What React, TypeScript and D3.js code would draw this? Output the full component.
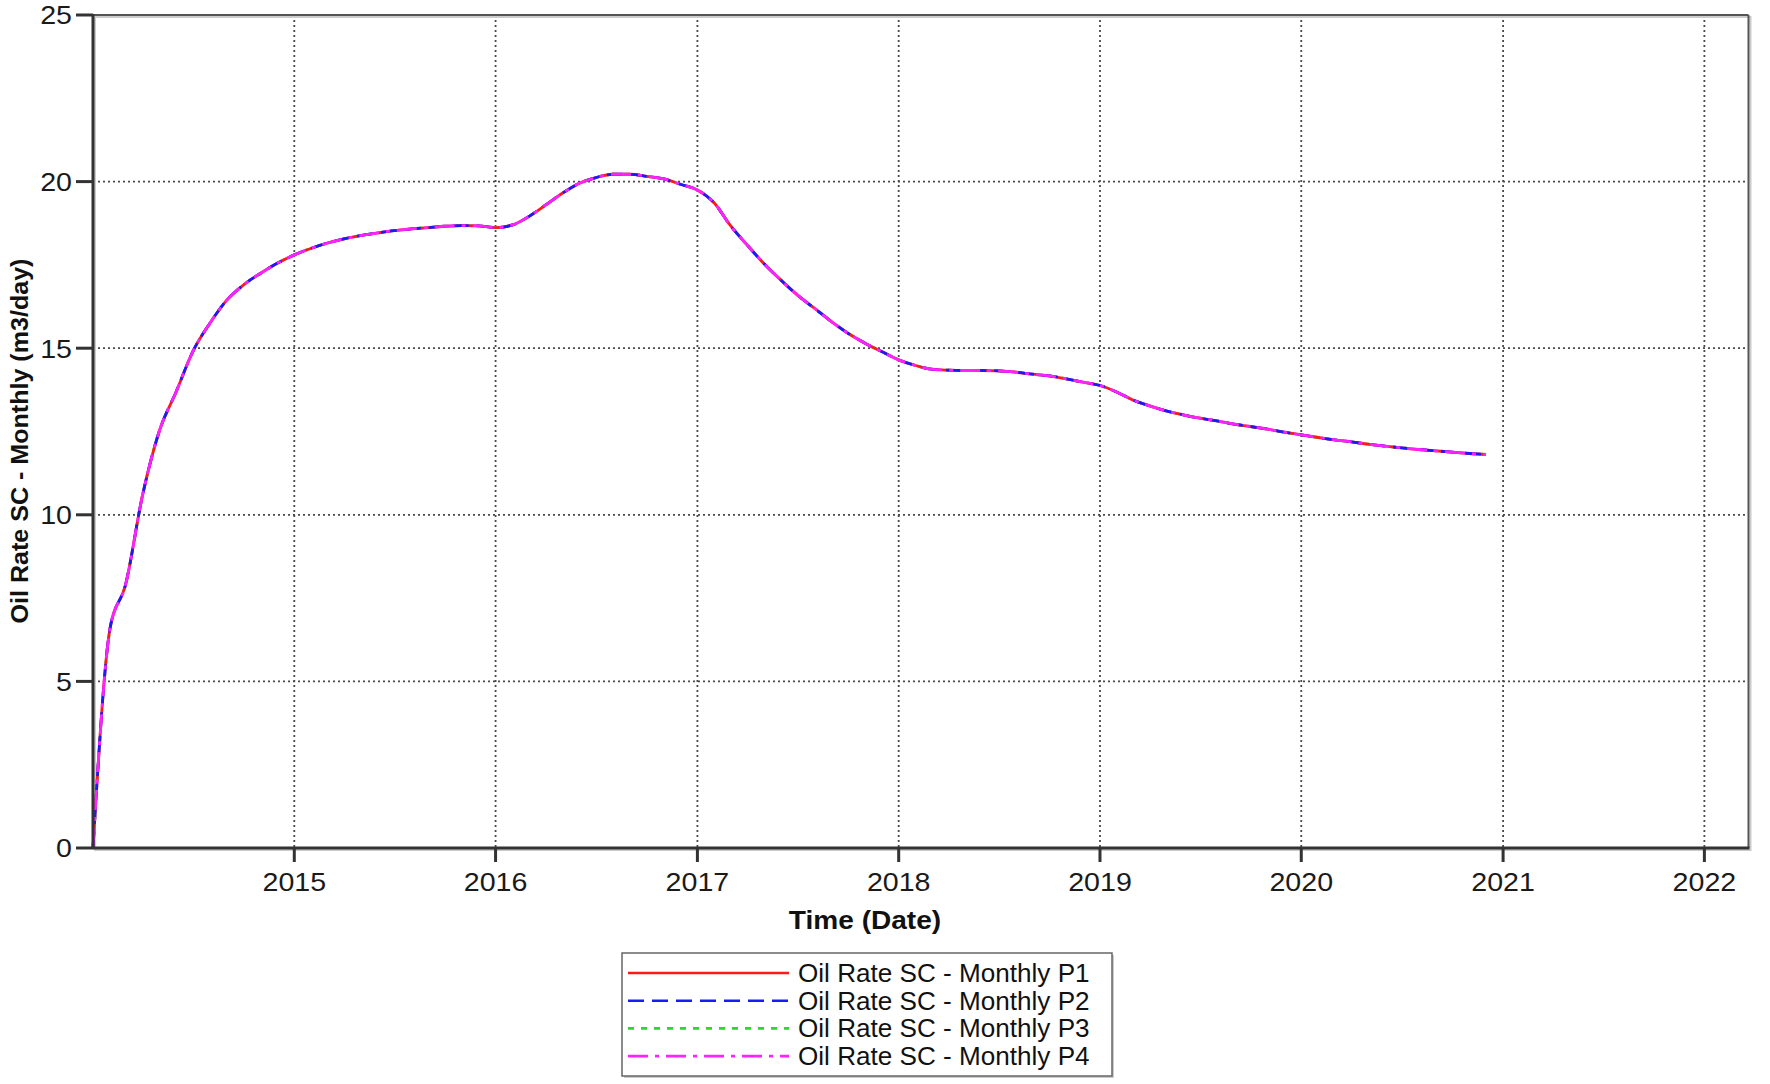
import React from "react";
import * as d3 from "d3";

// ---- data ----
const startMonth = "2014-01-01";
const oilRateMonthly = [
  // 2014
  0, 6.6, 7.9, 10.6, 12.5, 13.7, 14.9, 15.75, 16.45, 16.9, 17.25, 17.55,
  // 2015
  17.8, 18.0, 18.15, 18.28, 18.38, 18.46, 18.53, 18.58, 18.62, 18.66, 18.68, 18.67,
  // 2016
  18.62, 18.7, 18.95, 19.3, 19.65, 19.95, 20.12, 20.22, 20.22, 20.16, 20.08, 19.92,
  // 2017
  19.75, 19.35, 18.7, 18.1, 17.55, 17.05, 16.6, 16.2, 15.8, 15.45, 15.15, 14.9,
  // 2018
  14.65, 14.48, 14.37, 14.34, 14.33, 14.33, 14.32, 14.28, 14.22, 14.17, 14.08, 13.98,
  // 2019
  13.88, 13.68, 13.45, 13.27, 13.12, 13.0, 12.9, 12.82, 12.72, 12.65, 12.57, 12.48,
  // 2020
  12.4, 12.32, 12.25, 12.19, 12.12, 12.06, 12.01, 11.96, 11.92, 11.88, 11.84, 11.81,
];
const seriesNames = [
  "Oil Rate SC - Monthly P1",
  "Oil Rate SC - Monthly P2",
  "Oil Rate SC - Monthly P3",
  "Oil Rate SC - Monthly P4",
];
const seriesColors = ["#ff1a1a", "#1a1aff", "#22dd22", "#ff22ff"];
const seriesDashes = ["none", "16,8", "6,7", "20,7,4,7"];
const drawOrder = [2, 0, 1, 3];
const yTicks = [0, 5, 10, 15, 20, 25];
const yGrid = [5, 10, 15, 20];
const xTickYears = [2015, 2016, 2017, 2018, 2019, 2020, 2021, 2022];
const xDomain = ["2014-01-01", "2022-03-22"];
const yTitle = "Oil Rate SC - Monthly (m3/day)";
const xTitle = "Time (Date)";

const W = 1770;
const H = 1084;
const left = 93;
const right = 1748.5;
const top = 15;
const bottom = 848;
const FONT = "'Liberation Sans', Arial, sans-serif";

function SText(props: {
  x: number;
  y: number;
  sx: number;
  size: number;
  anchor?: string;
  weight?: string;
  rotate?: number;
  dy?: string;
  fill?: string;
  children: React.ReactNode;
}) {
  const { x, y, sx, size, anchor, weight, rotate, dy, fill, children } = props;
  return (
    <text
      transform={`translate(${x},${y}) rotate(${rotate || 0}) scale(${sx},1)`}
      textAnchor={anchor || "start"}
      fontSize={size}
      fontWeight={weight || "normal"}
      dy={dy}
      fill={fill || "#1a1a1a"}
    >
      {children}
    </text>
  );
}

export default function App() {
  const x = d3
    .scaleTime()
    .domain(xDomain.map((s) => new Date(s + "T00:00:00")))
    .range([left, right]);
  const y = d3.scaleLinear().domain([0, 25]).range([bottom, top]);
  const start = new Date(startMonth + "T00:00:00");
  const pts = oilRateMonthly.map((v, i) => ({
    d: d3.timeMonth.offset(start, i),
    v,
  }));
  const line = d3
    .line<{ d: Date; v: number }>()
    .x((p) => x(p.d))
    .y((p) => y(p.v))
    .curve(d3.curveMonotoneX);
  const path = line(pts) || "";
  const yearX = (yr: number) => x(new Date(yr, 0, 1));

  const legX = 622;
  const legY = 953;
  const legW = 490;
  const legH = 123;
  const rowH = 27.7;

  return (
    <svg
      width={W}
      height={H}
      style={{ position: "absolute", left: 0, top: 0, background: "#fff" }}
      fontFamily={FONT}
    >
      <rect x={0} y={0} width={W} height={H} fill="#fff" />
      {/* grid */}
      {yGrid.map((t) => (
        <line
          key={"gy" + t}
          x1={left}
          x2={right}
          y1={y(t)}
          y2={y(t)}
          stroke="#4a4a4a"
          strokeWidth={1.8}
          strokeDasharray="2,3"
        />
      ))}
      {xTickYears.map((yr) => (
        <line
          key={"gx" + yr}
          x1={yearX(yr)}
          x2={yearX(yr)}
          y1={top}
          y2={bottom}
          stroke="#4a4a4a"
          strokeWidth={1.8}
          strokeDasharray="2,3"
        />
      ))}
      {/* frame */}
      <rect
        x={left + 2}
        y={top + 2}
        width={right - left}
        height={bottom - top}
        fill="none"
        stroke="#ccc"
        strokeWidth={2}
      />
      <line x1={left} x2={right} y1={top} y2={top} stroke="#555" strokeWidth={2} />
      <line x1={right} x2={right} y1={top} y2={bottom} stroke="#555" strokeWidth={2} />

      {/* series */}
      {drawOrder.map((i) => (
        <path
          key={seriesNames[i]}
          d={path}
          fill="none"
          stroke={seriesColors[i]}
          strokeWidth={2.8}
          strokeDasharray={seriesDashes[i]}
        />
      ))}

      {/* axes */}
      <line x1={left} x2={left} y1={top - 1} y2={bottom + 1} stroke="#333" strokeWidth={3} />
      <line x1={left} x2={right + 1} y1={bottom} y2={bottom} stroke="#333" strokeWidth={3} />
      {yTicks.map((t) => (
        <g key={"yt" + t}>
          <line x1={76} x2={left} y1={y(t)} y2={y(t)} stroke="#333" strokeWidth={3} />
          <SText x={72} y={y(t)} dy="0.36em" anchor="end" size={26} sx={1.1}>
            {t}
          </SText>
        </g>
      ))}
      {xTickYears.map((yr) => (
        <g key={"xt" + yr}>
          <line
            x1={yearX(yr)}
            x2={yearX(yr)}
            y1={bottom}
            y2={bottom + 14}
            stroke="#333"
            strokeWidth={3}
          />
          <SText x={yearX(yr)} y={891} anchor="middle" size={26} sx={1.1}>
            {yr}
          </SText>
        </g>
      ))}
      <SText x={865} y={929} anchor="middle" size={26} sx={1.08} weight="bold" fill="#111">
        {xTitle}
      </SText>
      <SText
        x={28}
        y={441}
        rotate={-90}
        anchor="middle"
        size={24}
        sx={1.045}
        weight="bold"
        fill="#111"
      >
        {yTitle}
      </SText>

      {/* legend */}
      <rect x={legX + 2} y={legY + 2} width={legW} height={legH} fill="#ccc" />
      <rect
        x={legX}
        y={legY}
        width={legW}
        height={legH}
        fill="#fff"
        stroke="#666"
        strokeWidth={1.5}
      />
      {seriesNames.map((n, i) => {
        const cy = legY + 20 + i * rowH;
        return (
          <g key={"lg" + n}>
            <line
              x1={legX + 6}
              x2={legX + 167}
              y1={cy}
              y2={cy}
              stroke={seriesColors[i]}
              strokeWidth={2.6}
              strokeDasharray={seriesDashes[i]}
            />
            <SText x={legX + 176} y={cy} dy="0.36em" size={25} sx={1.045} fill="#111">
              {n}
            </SText>
          </g>
        );
      })}
    </svg>
  );
}
